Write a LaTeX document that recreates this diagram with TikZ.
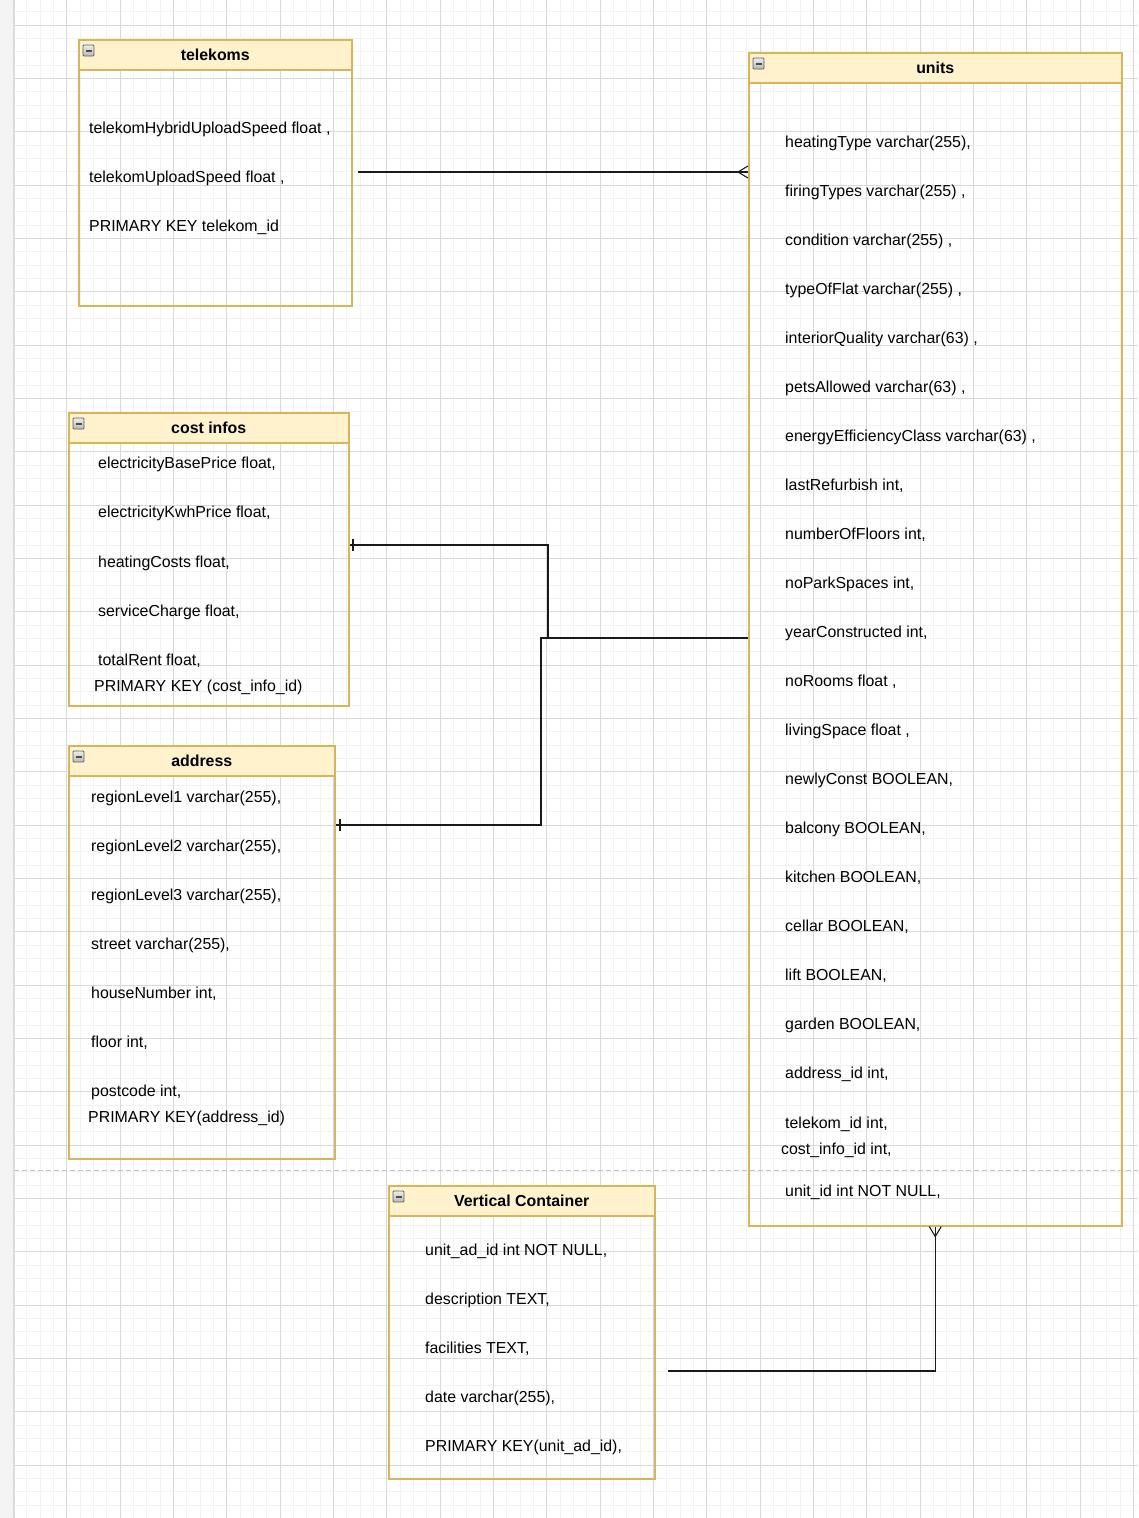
\documentclass[tikz,border=0pt]{standalone}
\usepackage{fontspec}
\setmainfont{Liberation Sans}
\usetikzlibrary{calc}
\definecolor{hdrfill}{HTML}{FFF2CC}
\definecolor{hdrline}{HTML}{D6B656}
\definecolor{gridminor}{HTML}{F1F1F1}
\definecolor{gridmajor}{HTML}{D9D9D9}
\definecolor{conn}{HTML}{1A1A1A}
\definecolor{stripfill}{HTML}{F4F4F4}
\tikzset{
 tblbody/.style={draw=hdrline, line width=1.5pt, anchor=north west, inner sep=0pt, rectangle},
 tblhead/.style={draw=hdrline, fill=hdrfill, line width=1.5pt, anchor=north west, inner sep=0pt, minimum height=30pt, font=\fontsize{15.9}{19}\selectfont\bfseries},
 fld/.style={anchor=base west, inner sep=0pt, font=\fontsize{15.9}{19}\selectfont},
 link/.style={draw=conn, line width=1.4pt},
}
\newcommand{\minusicon}[2]{%
  \shade[top color=gray!15, bottom color=gray!55, draw=gray!75!black, line width=0.8pt, rounded corners=1pt] (#1+5,#2+6) rectangle (#1+16,#2+17);
  \fill[black!70] (#1+7.5,#2+10.5) rectangle (#1+13.5,#2+12.5);
}
\begin{document}
\begin{tikzpicture}[x=1pt,y=-1pt]
\useasboundingbox (0,0) rectangle (1138,1518);
\fill[white] (0,0) rectangle (1138,1518);
% left strip
\fill[stripfill] (0,0) rectangle (14,1518);
\draw[gray!25, line width=0.8pt] (14,0) -- (14,1518);
% grid minor
\foreach \i in {1,...,85} {
  \draw[gridminor, line width=0.8pt] (13.333*\i,0) -- (13.333*\i,1518);
}
\foreach \j in {0,...,113} {
  \draw[gridminor, line width=0.8pt] (14,11.667+13.333*\j) -- (1138,11.667+13.333*\j);
}
% grid major
\foreach \i in {0,...,21} {
  \draw[gridmajor, line width=0.8pt] (13.333+53.333*\i,0) -- (13.333+53.333*\i,1518);
}
\foreach \j in {0,...,28} {
  \draw[gridmajor, line width=0.8pt] (14,25+53.333*\j) -- (1138,25+53.333*\j);
}
% page break
\draw[gray!45, line width=1pt, dash pattern=on 5pt off 3pt] (14,1170) -- (1138,1170);

% ---------- telekoms ----------
\node[tblbody, minimum width=273pt, minimum height=266pt] (tel) at (78,39) {};
\node[tblhead, minimum width=273pt] (telH) at (78,39) {telekoms};
\minusicon{78}{39}
\node[fld] (tel1) at (89,133) {telekomHybridUploadSpeed float ,};
\node[fld] (tel2) at (89,182) {telekomUploadSpeed float ,};
\node[fld] (tel3) at (89,231) {PRIMARY KEY telekom\_id};

% ---------- units ----------
\node[tblbody, minimum width=373pt, minimum height=1173pt] (units) at (748,52) {};
\node[tblhead, minimum width=373pt] (unitsH) at (748,52) {units};
\minusicon{748}{52}
\foreach [count=\i from 0] \t in {
 {heatingType varchar(255),},
 {firingTypes varchar(255) ,},
 {condition varchar(255) ,},
 {typeOfFlat varchar(255) ,},
 {interiorQuality varchar(63) ,},
 {petsAllowed varchar(63) ,},
 {energyEfficiencyClass varchar(63) ,},
 {lastRefurbish int,},
 {numberOfFloors int,},
 {noParkSpaces int,},
 {yearConstructed int,},
 {noRooms float ,},
 {livingSpace float ,},
 {newlyConst BOOLEAN,},
 {balcony BOOLEAN,},
 {kitchen BOOLEAN,},
 {cellar BOOLEAN,},
 {lift BOOLEAN,},
 {garden BOOLEAN,},
 {address\_id int,},
 {telekom\_id int,}} {
  \node[fld] (u\i) at (785,147+49.05*\i) {\t};
}
\node[fld] (u21) at (781,1154) {cost\_info\_id int,};
\node[fld] (u22) at (785,1196) {unit\_id int NOT NULL,};

% ---------- cost infos ----------
\node[tblbody, minimum width=280pt, minimum height=293pt] (ci) at (68,412) {};
\node[tblhead, minimum width=280pt] (ciH) at (68,412) {cost infos};
\minusicon{68}{412}
\node[fld] (ci1) at (98,468) {electricityBasePrice float,};
\node[fld] (ci2) at (98,517) {electricityKwhPrice float,};
\node[fld] (ci3) at (98,567) {heatingCosts float,};
\node[fld] (ci4) at (98,616) {serviceCharge float,};
\node[fld] (ci5) at (98,665) {totalRent float,};
\node[fld] (ci6) at (94,691) {PRIMARY KEY (cost\_info\_id)};

% ---------- address ----------
\node[tblbody, minimum width=266pt, minimum height=413pt] (addr) at (68,745) {};
\node[tblhead, minimum width=266pt] (addrH) at (68,745) {address};
\minusicon{68}{745}
\node[fld] (a1) at (91,802) {regionLevel1 varchar(255),};
\node[fld] (a2) at (91,851) {regionLevel2 varchar(255),};
\node[fld] (a3) at (91,900) {regionLevel3 varchar(255),};
\node[fld] (a4) at (91,949) {street varchar(255),};
\node[fld] (a5) at (91,998) {houseNumber int,};
\node[fld] (a6) at (91,1047) {floor int,};
\node[fld] (a7) at (91,1096) {postcode int,};
\node[fld] (a8) at (88,1122) {PRIMARY KEY(address\_id)};

% ---------- Vertical Container ----------
\node[tblbody, minimum width=266pt, minimum height=293pt] (vc) at (388,1185) {};
\node[tblhead, minimum width=266pt] (vcH) at (388,1185) {Vertical Container};
\minusicon{388}{1185}
\node[fld] (v1) at (425,1255) {unit\_ad\_id int NOT NULL,};
\node[fld] (v2) at (425,1304) {description TEXT,};
\node[fld] (v3) at (425,1353) {facilities TEXT,};
\node[fld] (v4) at (425,1402) {date varchar(255),};
\node[fld] (v5) at (425,1451) {PRIMARY KEY(unit\_ad\_id),};

% ---------- connectors ----------
% telekoms -> units (many)
\coordinate (telRow) at (358,172);
\coordinate (uL1) at (units.west |- telRow);
\draw[link] (telRow) -- (uL1);
\draw[link, line width=1.1pt] ($(uL1)+(0,-6)$) -- ($(uL1)+(-10,0)$) -- ($(uL1)+(0,6)$);

% cost infos -> units
\coordinate (ciEnd) at (350,545);
\coordinate (joinA) at (548,545);
\coordinate (joinB) at (548,638);
\coordinate (uL2) at (units.west |- joinB);
\draw[link] (ciEnd) -- (joinA) -- (joinB) -- (uL2);
\draw[link, line width=1.1pt] ($(ciEnd)+(3,-6)$) -- ($(ciEnd)+(3,6)$);

% address -> units
\coordinate (adEnd) at (336,825);
\coordinate (joinC) at (541,825);
\coordinate (joinD) at (541,638);
\draw[link] (adEnd) -- (joinC) -- (joinD) -- (joinB);
\draw[link, line width=1.1pt] ($(adEnd)+(4,-6)$) -- ($(adEnd)+(4,6)$);

% Vertical Container -> units (many)
\coordinate (vcEnd) at (668,1371);
\coordinate (uB) at (units.south);
\coordinate (vcCorner) at (uB |- vcEnd);
\draw[link] (vcEnd) -- (vcCorner) -- (uB);
\draw[link, line width=1.1pt] ($(uB)+(-6,0)$) -- ($(uB)+(0,10)$) -- ($(uB)+(6,0)$);
\end{tikzpicture}
\end{document}
